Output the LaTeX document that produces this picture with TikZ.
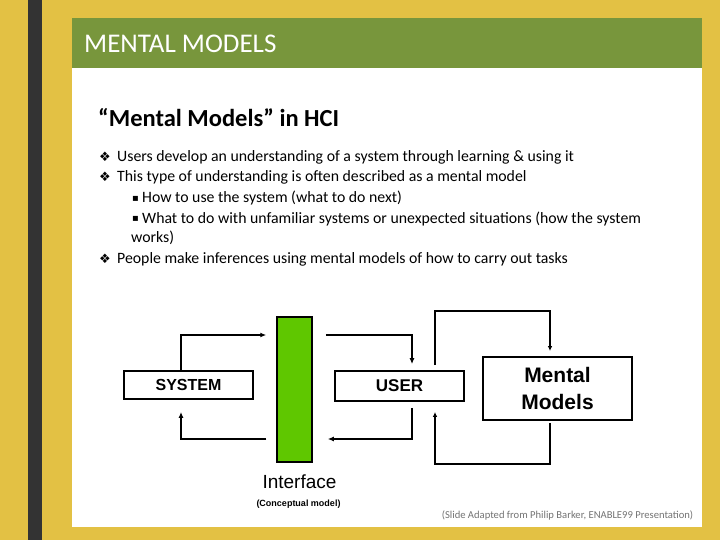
\documentclass[tikz,border=0pt]{standalone}
\usepackage{fontspec}
\setmainfont{Carlito}
\newfontfamily\diagfont{Liberation Sans}
\newfontfamily\symfont{DejaVu Sans}
\usetikzlibrary{arrows.meta}
\definecolor{slideyellow}{RGB}{227,193,68}
\definecolor{slidedark}{RGB}{51,51,51}
\definecolor{headgreen}{RGB}{120,150,60}
\definecolor{ifacegreen}{RGB}{95,199,0}
\tikzset{
  box/.style={draw, line width=1.8pt, fill=white, inner sep=0pt, font=\diagfont\bfseries},
  flow/.style={line width=1.8pt, -{Latex[length=6pt,width=5pt]}},
  thinflow/.style={line width=1.3pt, -{Latex[length=5pt,width=4.5pt]}},
  txt/.style={anchor=base west, inner sep=0pt, font=\fontsize{15.8}{18}\selectfont},
  mark1/.style={anchor=base west, inner sep=0pt, font=\symfont\fontsize{13}{15}\selectfont},
  mark2/.style={anchor=base west, inner sep=0pt, yshift=1pt, font=\symfont\fontsize{10}{12}\selectfont}
}
\begin{document}
\begin{tikzpicture}[x=1pt,y=-1pt]
  % slide frame
  \fill[slideyellow] (0,0) rectangle (720,540);
  \fill[slidedark] (28,0) rectangle (42,540);
  \fill[white] (72,18) rectangle (702,527);
  \fill[headgreen] (72,18) rectangle (702,68);
  \node[anchor=base west, inner sep=0pt, text=white, font=\fontsize{27}{31}\selectfont] (head) at (84,53) {MENTAL MODELS};
  \node[anchor=base west, inner sep=0pt, font=\fontsize{24.5}{28}\selectfont\bfseries] (title) at (98,127) {“Mental Models” in HCI};

  % bullets
  \node[mark1] (b1) at (99,162) {❖};
  \node[txt] (t1) at (117,162) {Users develop an understanding of a system through learning \& using it};
  \node[mark1] (b2) at (99,182) {❖};
  \node[txt] (t2) at (117,182) {This type of understanding is often described as a mental model};
    \node[mark2] (s1) at (132,203) {▪};
    \node[txt] (u1) at (142,203) {How to use the system (what to do next)};
    \node[mark2] (s2) at (132,223) {▪};
    \node[txt] (u2) at (142,223) {What to do with unfamiliar systems or unexpected situations (how the system};
    \node[txt] (u3) at (131,243) {works)};
  \node[mark1] (b3) at (99,263) {❖};
  \node[txt] (t3) at (117,263) {People make inferences using mental models of how to carry out tasks};

  % diagram
  \node[box, minimum width=129pt, minimum height=28pt, font=\diagfont\bfseries\fontsize{16}{18}\selectfont] (sys) at (188.5,385) {SYSTEM};
  \node[draw, line width=1.5pt, fill=ifacegreen, minimum width=35pt, minimum height=145pt, inner sep=0pt] (iface) at (294.5,389.5) {};
  \node[box, minimum width=129pt, minimum height=30pt, font=\diagfont\bfseries\fontsize{17}{19}\selectfont] (user) at (399.5,386) {USER};
  \node[box, minimum width=149pt, minimum height=63pt, align=center, font=\diagfont\bfseries\fontsize{21}{27}\selectfont] (mental) at (557.5,388.5) {Mental\\Models};
  \node[inner sep=0pt, font=\diagfont\fontsize{19}{22}\selectfont] (ilabel) at (299.5,482) {Interface};
  \node[inner sep=0pt, font=\diagfont\bfseries\fontsize{9}{11}\selectfont] (clabel) at (298.5,504) {(Conceptual model)};

  \draw[flow] ([xshift=-7.5pt]sys.north) |- ([xshift=-10pt,yshift=54.5pt]iface.west);
  \draw[flow] ([xshift=13pt,yshift=54.5pt]iface.east) -| ([xshift=12.5pt,yshift=6pt]user.north);
  \draw[flow] ([xshift=12.5pt,yshift=-6pt]user.south) |- ([xshift=15pt,yshift=-49.5pt]iface.east);
  \draw[flow] ([xshift=-10pt,yshift=-49.5pt]iface.west) -| ([xshift=-7.5pt,yshift=-12pt]sys.south);

  \draw[thinflow] ([xshift=35.5pt,yshift=5pt]user.north) |- ([xshift=-7.5pt,yshift=45pt]mental.north) -- ([xshift=-7.5pt,yshift=5pt]mental.north);
  \draw[thinflow] ([xshift=-7.5pt,yshift=-2pt]mental.south) |- ([xshift=35.5pt,yshift=-62pt]user.south) -- ([xshift=35.5pt,yshift=-10pt]user.south);

  % credit
  \node[inner sep=0pt, text=black!55, font=\fontsize{10.6}{12}\selectfont] (credit) at (567.5,515) {(Slide Adapted from Philip Barker, ENABLE99 Presentation)};
\end{tikzpicture}
\end{document}
